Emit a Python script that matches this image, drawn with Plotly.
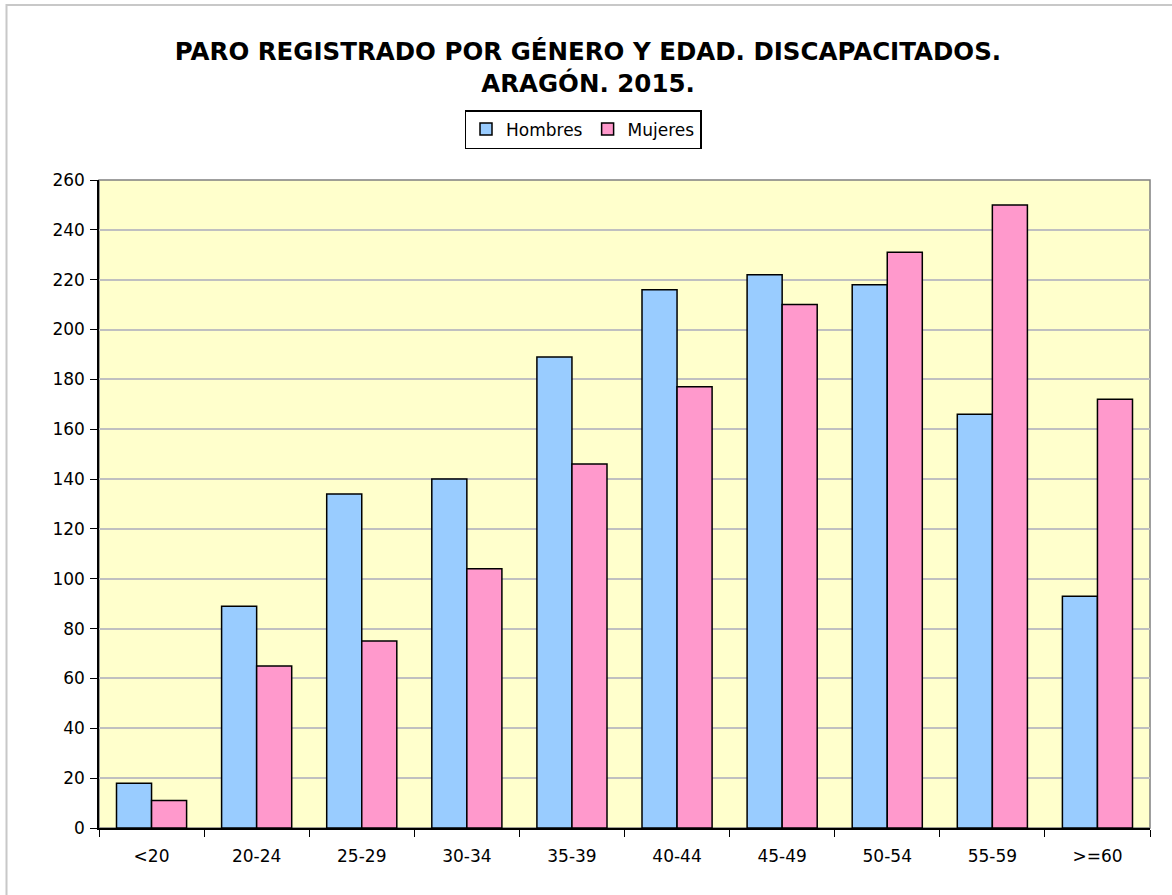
import plotly.graph_objects as go

categories = ["<20", "20-24", "25-29", "30-34", "35-39", "40-44", "45-49", "50-54", "55-59", ">=60"]
hombres = [18, 89, 134, 140, 189, 216, 222, 218, 166, 93]
mujeres = [11, 65, 75, 104, 146, 177, 210, 231, 250, 172]
y_ticks = list(range(0, 261, 20))

FONT = "DejaVu Sans"

fig = go.Figure()
fig.add_trace(go.Bar(x=categories, y=hombres, name="Hombres",
                     marker=dict(color="#99CCFF", line=dict(color="black", width=1.5))))
fig.add_trace(go.Bar(x=categories, y=mujeres, name="Mujeres",
                     marker=dict(color="#FF99CC", line=dict(color="black", width=1.5))))

L, R, T, B = 99, 22, 180, 67
W, H = 1172, 895
pw, ph = W - L - R, H - T - B

def px_x(px):
    return (px - L) / pw

def px_y(py):
    return (H - B - py) / ph

fig.update_layout(
    width=W, height=H,
    margin=dict(l=L, r=R, t=T, b=B, autoexpand=False),
    paper_bgcolor="white",
    plot_bgcolor="#FFFFCC",
    barmode="group", bargap=0.333, bargroupgap=0,
    font=dict(family=FONT, size=17, color="black"),
    title=dict(text="<b>PARO REGISTRADO POR GÉNERO Y EDAD. DISCAPACITADOS.<br>ARAGÓN. 2015.</b>",
               x=588 / W, xanchor="center", xref="container", y=1 - 60 / H, yanchor="top", yref="container",
               font=dict(family=FONT, size=24.5, color="black")),
    legend=dict(orientation="h", x=px_x(583), xanchor="center", y=px_y(110), yanchor="top",
                bordercolor="black", borderwidth=1.5, bgcolor="white",
                font=dict(family=FONT, size=17), itemwidth=30, traceorder="normal"),
    showlegend=True,
    xaxis=dict(showline=True, linecolor="black", linewidth=1.5, ticks="outside", tickson="boundaries",
               ticklen=7, tickcolor="black", showgrid=False, tickfont=dict(size=17),
               ticklabelstandoff=12),
    yaxis=dict(range=[0, 260], tickvals=y_ticks, showline=True, linecolor="black", linewidth=1.5,
               ticks="outside", ticklen=7, tickcolor="black", showgrid=True, gridcolor="#C0C0C0",
               gridwidth=1.5, zeroline=False, tickfont=dict(size=17), ticklabelstandoff=2),
    shapes=[
        dict(type="rect", xref="paper", yref="paper", x0=0, x1=1, y0=0, y1=1,
             line=dict(color="#808080", width=1.5), fillcolor="rgba(0,0,0,0)", layer="below"),
        dict(type="rect", xref="paper", yref="paper", x0=px_x(6.5), x1=px_x(1190), y0=px_y(910), y1=px_y(5),
             line=dict(color="#C8C8C8", width=2), fillcolor="rgba(0,0,0,0)", layer="below"),
    ],
)

fig.write_html("out.html", config={"displayModeBar": False},
               post_script="document.body.style.margin='0';document.body.style.overflow='hidden';")
